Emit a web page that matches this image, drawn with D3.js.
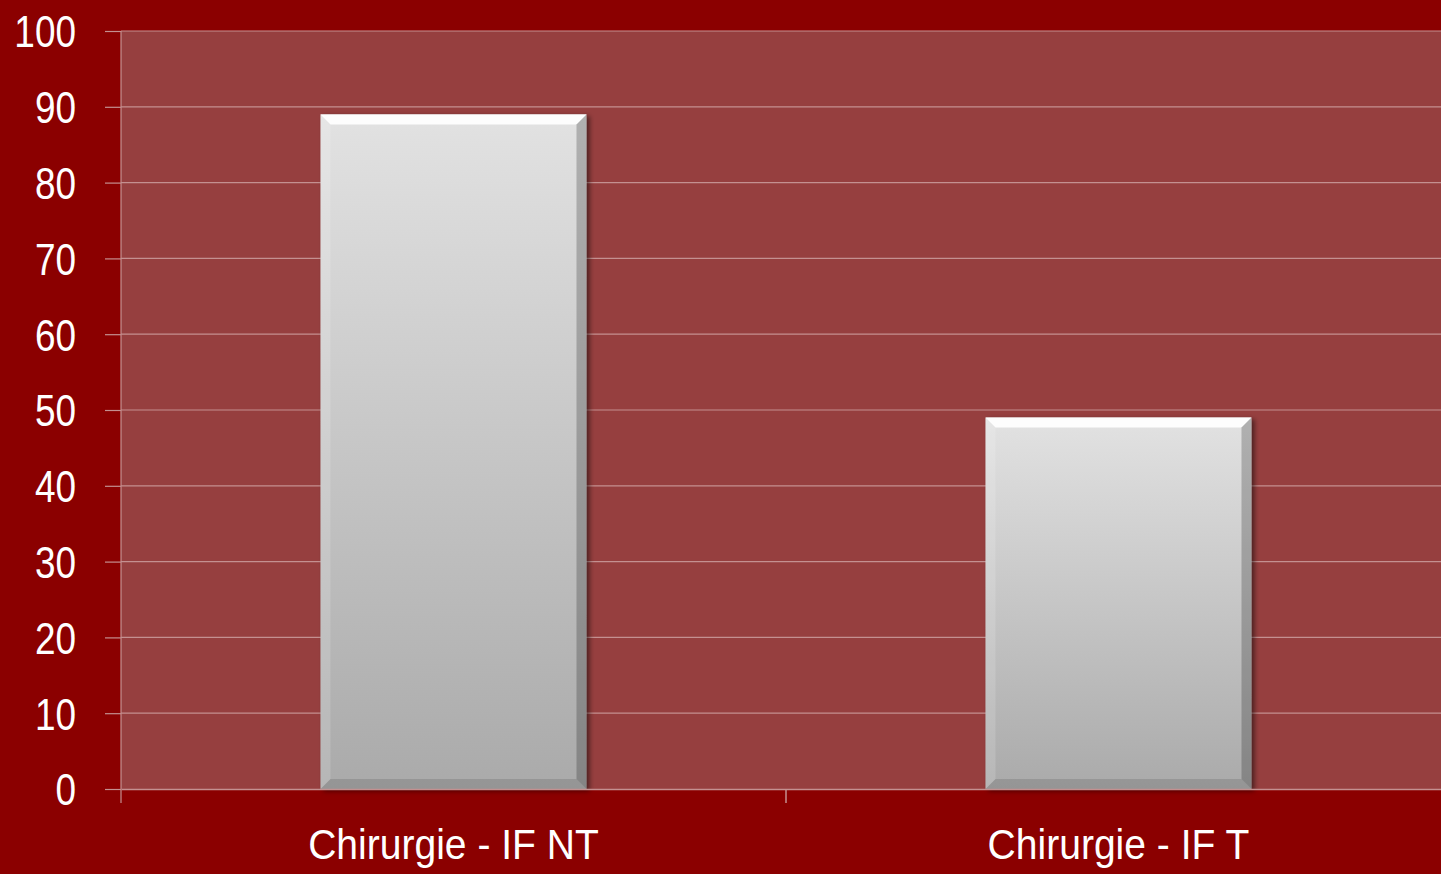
<!DOCTYPE html>
<html>
<head>
<meta charset="utf-8">
<script src="https://cdn.jsdelivr.net/npm/d3@7"></script>
<style>
body { margin: 0; background: #8b0000; overflow: hidden; }
svg { display: block; }
.tick text { font-family: "Liberation Sans", Arial, sans-serif; fill: #fff; }
</style>
</head>
<body>
<div id="chart"></div>
<script>
// chart data
const categories = ["Chirurgie - IF NT", "Chirurgie - IF T"];
const values = [89, 49];
const yTicks = [0, 10, 20, 30, 40, 50, 60, 70, 80, 90, 100];

var W = 1441, H = 874;
var margin = {top: 31, right: -10, bottom: 85, left: 121},
  width = W - margin.left - margin.right,
  height = H - margin.top - margin.bottom;

var svg = d3.select("div#chart")
  .append("svg")
    .attr("width", W)
    .attr("height", H);

var defs = svg.append("defs");

var grad = defs.append("linearGradient")
  .attr("id", "barfill")
  .attr("x1", 0).attr("y1", 0).attr("x2", 0).attr("y2", 1);
grad.append("stop").attr("offset", "0%").attr("stop-color", "#e2e2e2");
grad.append("stop").attr("offset", "100%").attr("stop-color", "#aaaaaa");

var shadow = defs.append("filter").attr("id", "shadow")
  .attr("x", "-10%").attr("y", "-10%").attr("width", "130%").attr("height", "130%");
shadow.append("feGaussianBlur").attr("in", "SourceAlpha").attr("stdDeviation", 2.5);
shadow.append("feOffset").attr("dx", 3).attr("dy", 2).attr("result", "off");
shadow.append("feComponentTransfer").append("feFuncA").attr("type", "linear").attr("slope", 0.5);
var merge = shadow.append("feMerge");
merge.append("feMergeNode");
merge.append("feMergeNode").attr("in", "SourceGraphic");

var g = svg.append("g")
  .attr("transform", "translate(" + margin.left + "," + margin.top + ")");

var x = d3.scaleBand()
  .range([0, width])
  .domain(categories)
  .paddingInner(0.6)
  .paddingOuter(0.3);

var xAxisBand = d3.scaleBand()
  .range([0, width])
  .domain(categories);

var y = d3.scaleLinear()
  .range([height, 0])
  .domain([0, 100]);

// plot background
g.append("rect")
  .attr("x", 0).attr("y", 0)
  .attr("width", width).attr("height", height)
  .attr("fill", "#963f3f");

// gridlines
g.selectAll(".grid")
  .data(yTicks.filter(d => d > 0))
  .enter()
  .append("line")
    .attr("class", "grid")
    .attr("x1", 0).attr("x2", width)
    .attr("y1", d => y(d)).attr("y2", d => y(d))
    .attr("stroke", "#c49090")
    .attr("stroke-width", 1.2);

// bars
var bars = g.selectAll(".bar")
  .data(categories.map((c, i) => ({cat: c, val: values[i]})))
  .enter()
  .append("g")
    .attr("class", "bar")
    .attr("filter", "url(#shadow)");

var bev = 10;

bars.append("rect")
  .attr("x", d => x(d.cat))
  .attr("y", d => y(d.val))
  .attr("width", x.bandwidth())
  .attr("height", d => y(0) - y(d.val))
  .attr("fill", "url(#barfill)");

// bevel edges
bars.append("polygon")
  .attr("points", function(d) {
    var x0 = x(d.cat), x1 = x0 + x.bandwidth(), y0 = y(d.val);
    return [[x0, y0], [x1, y0], [x1 - bev, y0 + bev], [x0 + bev, y0 + bev]].join(" ");
  })
  .attr("fill", "#fdfdfd");

bars.append("polygon")
  .attr("points", function(d) {
    var x0 = x(d.cat), y0 = y(d.val), y1 = y(0);
    return [[x0, y0], [x0 + bev, y0 + bev], [x0 + bev, y1 - bev], [x0, y1]].join(" ");
  })
  .attr("fill", "#ffffff")
  .attr("opacity", 0.15);

bars.append("polygon")
  .attr("points", function(d) {
    var x1 = x(d.cat) + x.bandwidth(), y0 = y(d.val), y1 = y(0);
    return [[x1, y0], [x1 - bev, y0 + bev], [x1 - bev, y1 - bev], [x1, y1]].join(" ");
  })
  .attr("fill", "#000000")
  .attr("opacity", 0.22);

bars.append("polygon")
  .attr("points", function(d) {
    var x0 = x(d.cat), x1 = x0 + x.bandwidth(), y1 = y(0);
    return [[x0, y1], [x0 + bev, y1 - bev], [x1 - bev, y1 - bev], [x1, y1]].join(" ");
  })
  .attr("fill", "#000000")
  .attr("opacity", 0.12);

// y axis
var yAxis = g.append("g")
  .attr("class", "axis")
  .call(d3.axisLeft(y).tickValues(yTicks).tickSize(16));
yAxis.select(".domain").remove();
yAxis.selectAll(".tick line").attr("stroke", "#c49090").attr("stroke-width", 1.2);
yAxis.selectAll(".tick text")
  .style("font-size", "44px")
  .attr("x", 0)
  .attr("dy", "0.36em")
  .attr("transform", "translate(-45,0) scale(0.84,1)");

g.append("line")
  .attr("x1", 0).attr("x2", 0)
  .attr("y1", 0).attr("y2", height + 14)
  .attr("stroke", "#c49090")
  .attr("stroke-width", 1.2);

// x axis
var xAxis = g.append("g")
  .attr("class", "axis")
  .attr("transform", "translate(0," + height + ")")
  .call(d3.axisBottom(xAxisBand).tickSize(0).tickPadding(40));
xAxis.select(".domain")
  .attr("stroke", "#c49090").attr("stroke-width", 1.5);
xAxis.selectAll(".tick text")
  .style("font-size", "42px")
  .attr("x", 0)
  .attr("transform", d => "translate(" + (x(d) + x.bandwidth() / 2 - xAxisBand(d) - xAxisBand.bandwidth() / 2) + ",0) scale(0.93,1)");

// category separator ticks
g.selectAll(".sep")
  .data(categories.slice(1))
  .enter()
  .append("line")
    .attr("class", "sep")
    .attr("x1", d => xAxisBand(d)).attr("x2", d => xAxisBand(d))
    .attr("y1", height).attr("y2", height + 14)
    .attr("stroke", "#c49090")
    .attr("stroke-width", 1.5);
</script>
</body>
</html>
